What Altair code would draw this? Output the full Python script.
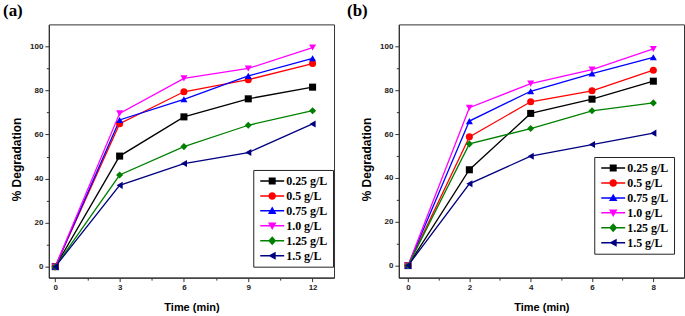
import altair as alt
import pandas as pd

series = ["0.25 g/L", "0.5 g/L", "0.75 g/L", "1.0 g/L", "1.25 g/L", "1.5 g/L"]
colors = ["#000000", "#FF0000", "#0000FF", "#FF00FF", "#008000", "#000080"]
shapes = ["square", "circle", "triangle-up", "triangle-down", "diamond", "triangle-left"]

# Panel (a)
time_a = [0, 3, 6, 9, 12]
a_025 = [0, 50.2, 68.0, 76.2, 81.5]
a_050 = [0, 64.9, 79.4, 84.9, 92.2]
a_075 = [0, 66.6, 76.0, 86.6, 94.6]
a_100 = [0, 69.6, 85.5, 90.0, 99.5]
a_125 = [0, 41.6, 54.5, 64.2, 70.8]
a_150 = [0, 36.9, 46.8, 51.8, 64.8]

# Panel (b)
time_b = [0, 2, 4, 6, 8]
b_025 = [0, 43.7, 69.4, 75.9, 84.1]
b_050 = [0, 58.7, 74.7, 79.7, 89.1]
b_075 = [0, 65.9, 79.5, 87.6, 95.0]
b_100 = [0, 72.0, 83.0, 89.4, 98.8]
b_125 = [0, 55.5, 62.5, 70.6, 74.2]
b_150 = [0, 37.3, 49.9, 55.2, 60.4]

x_ticks_a = [0, 1.5, 3, 4.5, 6, 7.5, 9, 10.5, 12]
x_ticks_b = [0, 1, 2, 3, 4, 5, 6, 7, 8]
y_ticks = [0, 10, 20, 30, 40, 50, 60, 70, 80, 90, 100]

# legend symbols: line segment + marker (custom paths)
line_seg = "M-0.8,-0.15L4,-0.15L4,0.15L-0.8,0.15Z"
legend_paths = [
    line_seg + "M0.9,-0.7L2.3,-0.7L2.3,0.7L0.9,0.7Z",
    line_seg + "M0.85,0A0.75,0.75 0 1,1 2.35,0A0.75,0.75 0 1,1 0.85,0Z",
    line_seg + "M1.6,-0.85L2.45,0.65L0.75,0.65Z",
    line_seg + "M1.6,0.85L0.75,-0.65L2.45,-0.65Z",
    line_seg + "M1.6,-0.9L2.4,0L1.6,0.9L0.8,0Z",
    line_seg + "M0.8,0L2.3,-0.8L2.3,0.8Z",
]


def make_df(times, vals):
    rows = []
    for s, v in zip(series, vals):
        for t, y in zip(times, v):
            rows.append({"time": t, "deg": y, "conc": s})
    return pd.DataFrame(rows)


def panel(df, xdomain, xticks, major, ydomain, label, dx, lx, ly):
    x = alt.X(
        "time:Q",
        scale=alt.Scale(domain=xdomain, nice=False, zero=False),
        axis=alt.Axis(
            title="Time (min)",
            values=xticks,
            labelExpr=f"datum.value % {major} == 0 ? datum.label : ''",
            tickSize={"condition": {"test": f"datum.value % {major} == 0", "value": 4}, "value": 2.5},
            labelOverlap=False,
            labelFlush=False,
            labelPadding=2,
            titlePadding=10,
        ),
    )
    y = alt.Y(
        "deg:Q",
        scale=alt.Scale(domain=ydomain, nice=False, zero=False),
        axis=alt.Axis(
            title="% Degradation",
            values=y_ticks,
            labelExpr="datum.value % 20 == 0 ? datum.label : ''",
            tickSize={"condition": {"test": "datum.value % 20 == 0", "value": 4}, "value": 2.5},
            labelOverlap=False,
            labelFlush=False,
            labelPadding=2,
            titlePadding=6,
            titleFontSize=12,
            titleY=135,
        ),
    )
    base = alt.Chart(df)
    layers = []
    for s, col in zip(series, colors):
        layers.append(
            base.transform_filter(alt.datum.conc == s)
            .mark_line(strokeWidth=1.3, color=col)
            .encode(x=x, y=y)
        )
    for s, col, shp in zip(series, colors, shapes):
        layers.append(
            base.transform_filter(alt.datum.conc == s)
            .mark_point(filled=True, opacity=1, size=50, shape=shp, color=col)
            .encode(x=x, y=y)
        )
    leg_cfg = dict(
        title=None,
        orient="none",
        legendX=lx,
        legendY=ly,
        strokeColor="#222222",
        fillColor="white",
        padding=5,
        labelFont="Liberation Serif",
        labelFontWeight="bold",
        labelFontSize=12,
        labelColor="black",
        labelOffset=16,
        symbolSize=100,
        symbolStrokeWidth=0,
        rowPadding=3,
    )
    layers.append(
        base.transform_filter("false")
        .mark_point(filled=True, opacity=1)
        .encode(
            x=x,
            y=y,
            color=alt.Color("conc:N", scale=alt.Scale(domain=series, range=colors),
                            legend=alt.Legend(**leg_cfg)),
            shape=alt.Shape(
                "conc:N",
                scale=alt.Scale(domain=series, range=legend_paths),
                legend=alt.Legend(**leg_cfg),
            ),
        )
    )
    return alt.layer(*layers).properties(
        width=286,
        height=254,
        title=alt.TitleParams(
            text=label,
            anchor="start",
            frame="group",
            dx=dx,
            offset=4,
            font="Liberation Serif",
            fontSize=17,
            fontWeight="bold",
            color="black",
        ),
    )


pa = panel(make_df(time_a, [a_025, a_050, a_075, a_100, a_125, a_150]),
           [-0.3, 13], x_ticks_a, 3, [-5, 110], "(a)", -46, 205, 146)
pb = panel(make_df(time_b, [b_025, b_050, b_075, b_100, b_125, b_150]),
           [-0.3, 9], x_ticks_b, 2, [-5.5, 110], "(b)", -52, 196, 133)

chart = (
    alt.hconcat(pa, pb, spacing=11)
    .resolve_scale(color="independent", shape="independent")
    .properties(padding={"left": 2, "top": 1, "right": 0, "bottom": 0}, background="white")
    .configure_view(stroke="#333333", strokeWidth=1)
    .configure_axis(
        grid=False,
        domainColor="#333333",
        domainWidth=1.2,
        tickColor="#333333",
        tickWidth=1,
        labelFont="Liberation Sans",
        labelFontWeight="bold",
        labelFontSize=8,
        labelColor="#222222",
        titleFont="Liberation Sans",
        titleFontWeight="bold",
        titleFontSize=11,
        titleColor="black",
    )
)

chart.save("out.html", embed_options={"renderer": "svg", "actions": False})
